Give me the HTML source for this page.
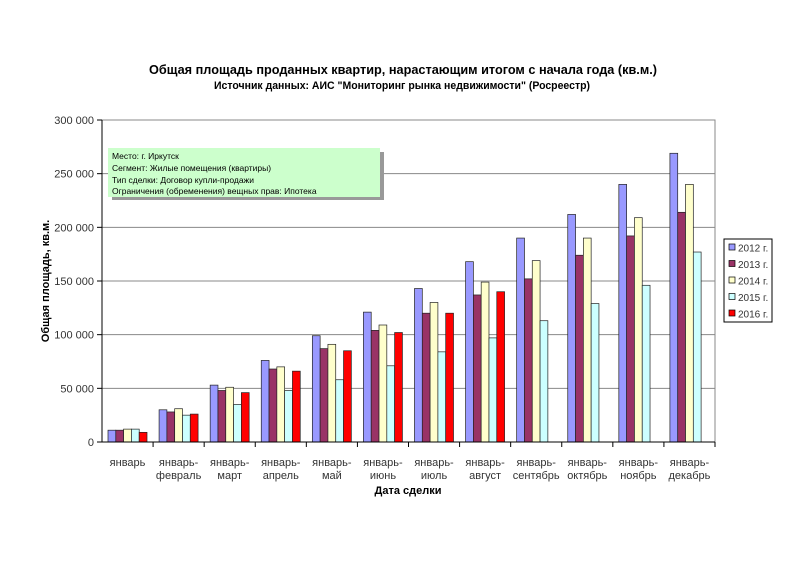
<!DOCTYPE html>
<html><head><meta charset="utf-8"><style>body{margin:0;background:#fff}svg{display:block}</style></head>
<body>
<svg id="s" width="803" height="583" xmlns="http://www.w3.org/2000/svg" font-family="Liberation Sans, DejaVu Sans, sans-serif">
<rect width="803" height="583" fill="#fff"/>
<text x="403" y="74" text-anchor="middle" font-size="13" font-weight="bold" textLength="508" lengthAdjust="spacingAndGlyphs">Общая площадь проданных квартир, нарастающим итогом с начала года (кв.м.)</text>
<text x="402" y="89" text-anchor="middle" font-size="11" font-weight="bold" textLength="376" lengthAdjust="spacingAndGlyphs">Источник данных: АИС "Мониторинг рынка недвижимости" (Росреестр)</text>
<g id="grid"></g>
<rect x="102" y="120" width="613" height="322" fill="none" stroke="#888"/>
<rect x="112" y="152" width="272" height="48" fill="#999"/>
<rect x="108" y="148" width="272" height="49" fill="#ccffcc"/>
<g font-size="8.5" fill="#000">
<text x="112" y="159">Место: г. Иркутск</text>
<text x="112" y="171">Сегмент: Жилые помещения (квартиры)</text>
<text x="112" y="183">Тип сделки: Договор купли-продажи</text>
<text x="112" y="194">Ограничения (обременения) вещных прав: Ипотека</text>
</g>
<g id="bars"></g>
<g id="axes" stroke="#000"></g>
<text x="49" y="281" font-size="11" font-weight="bold" text-anchor="middle" transform="rotate(-90 49 281)">Общая площадь, кв.м.</text>
<text x="408" y="494" font-size="11" font-weight="bold" text-anchor="middle">Дата сделки</text>
<rect x="724" y="239" width="48" height="83" fill="#fff" stroke="#000"/>
<g id="leg" font-size="10" fill="#333"></g>
</svg>
<script>
var ns="http://www.w3.org/2000/svg";
function el(p,t,a,txt){var e=document.createElementNS(ns,t);for(var k in a)e.setAttribute(k,a[k]);if(txt)e.textContent=txt;document.getElementById(p).appendChild(e);}
var base=442,sc=322/300000;
for(var i=0;i<=6;i++){var y=base-i*50000*sc;
 if(i>0)el("grid","line",{x1:102,x2:715,y1:y,y2:y,stroke:"#888"});
 el("axes","line",{x1:97,x2:102,y1:y,y2:y});
 el("axes","text",{x:94,y:y+4,"font-size":11,"text-anchor":"end",fill:"#333",stroke:"none"},i==0?"0":(i*50)+" 000");}
el("axes","line",{x1:102,x2:102,y1:120,y2:442});
el("axes","line",{x1:102,x2:715,y1:442,y2:442});
var cols=["#9999ff","#993366","#ffffcc","#ccffff","#ff0000"];
var d=[[11,30,53,76,99,121,143,168,190,212,240,269],[11,28,48,68,87,104,120,137,152,174,192,214],[12,31,51,70,91,109,130,149,169,190,209,240],[12,25,35,48,58,71,84,97,113,129,146,177],[9,26,46,66,85,102,120,140]];
var gw=613/12;
var l1=["январь","январь-","январь-","январь-","январь-","январь-","январь-","январь-","январь-","январь-","январь-","январь-"];
var l2=["","февраль","март","апрель","май","июнь","июль","август","сентябрь","октябрь","ноябрь","декабрь"];
for(var g=0;g<12;g++){var x0=102+g*gw;
 el("axes","line",{x1:x0+gw,x2:x0+gw,y1:442,y2:447});
 var cx=x0+gw/2;
 el("axes","text",{x:cx,y:466,"font-size":11,"text-anchor":"middle",fill:"#333",stroke:"none"},l1[g]);
 if(l2[g])el("axes","text",{x:cx,y:479,"font-size":11,"text-anchor":"middle",fill:"#333",stroke:"none"},l2[g]);
 for(var s=0;s<5;s++){if(d[s][g]==null)continue;var h=d[s][g]*1000*sc;
  el("bars","rect",{x:x0+6+s*7.8,y:base-h,width:7.8,height:h,fill:cols[s],stroke:"#222","stroke-width":0.7});}}
el("axes","line",{x1:97,x2:102,y1:442,y2:442});
var nm=["2012 г.","2013 г.","2014 г.","2015 г.","2016 г."];
for(var s=0;s<5;s++){var y=248+s*16.5;
 el("leg","rect",{x:729,y:y-4,width:6,height:6,fill:cols[s],stroke:"#000","stroke-width":0.7});
 el("leg","text",{x:738,y:y+3.5},nm[s]);}
</script>
</body></html>
